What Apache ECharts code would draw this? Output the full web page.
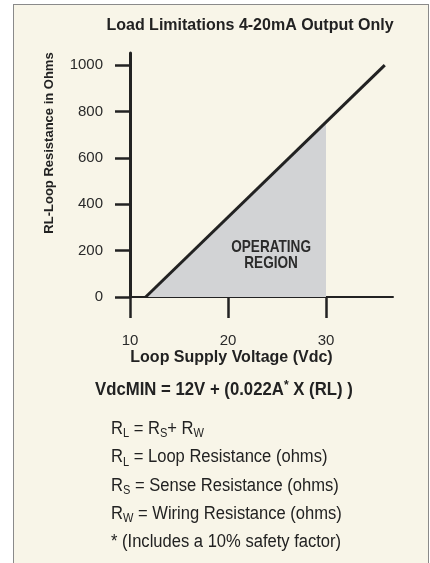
<!DOCTYPE html>
<html>
<head>
<meta charset="utf-8">
<script src="https://cdn.jsdelivr.net/npm/echarts@6/dist/echarts.min.js"></script>
<style>
  html, body { margin: 0; padding: 0; background: #ffffff; overflow: hidden; }
  #wrap { position: relative; width: 430px; height: 563px; overflow: hidden; }
  #frame { position: absolute; left: 13px; top: 4px; width: 414px; height: 620px;
           border: 1px solid #8a8a8a; background: #f8f5e8; }
  #chart { position: absolute; left: 0; top: 0; width: 430px; height: 563px; }
</style>
</head>
<body>
<div id="wrap">
  <div id="frame"></div>
  <div id="chart"></div>
</div>
<script>
// ---- data ----
const titleText = 'Load Limitations 4-20mA Output Only';
const xAxisName = 'Loop Supply Voltage (Vdc)';
const yAxisName = 'RL-Loop Resistance in Ohms';
const xTicks = [10, 20, 30];
const yTicks = [0, 200, 400, 600, 800, 1000];
const limitVoltage = [11.6, 36];     // load line x (Vdc)
const limitResistance = [0, 1000];  // load line y (ohms)
const regionVoltage = [11.6, 30];   // operating region top edge x
const regionResistance = [0, 754];  // operating region top edge y
const regionLabel = ['OPERATING', 'REGION'];
const regionLabelAt = [24.4, 181];   // data coords for region label centre

const chart = echarts.init(document.getElementById('chart'), null, { renderer: 'canvas' });
const FONT = '"Liberation Sans", Arial, Helvetica, sans-serif';
const ink = '#222222';

const linePts = limitVoltage.map((v, i) => [v, limitResistance[i]]);
const regionPts = regionVoltage.map((v, i) => [v, regionResistance[i]]);

const notes = [
  '{r|R}{s|L}{r| = R}{s|S}{r|+ R}{s|W}',
  '{r|R}{s|L}{r| = Loop Resistance (ohms)}',
  '{r|R}{s|S}{r| = Sense Resistance (ohms)}',
  '{r|R}{s|W}{r| = Wiring Resistance (ohms)}',
  '{r|* (Includes a 10% safety factor)}'
];

function textGraphics(labelPos) {
  return [
    {
      id: 'region', type: 'text', x: labelPos[0], y: labelPos[1], scaleX: 0.8, z: 10,
      style: {
        text: regionLabel.join('\n'), textAlign: 'center', textVerticalAlign: 'middle',
        fontFamily: FONT, fontSize: 17, fontWeight: 'bold', fill: '#2b2b2b', lineHeight: 16
      }
    },
    {
      id: 'formula', type: 'text', x: 95, y: 390, scaleX: 0.93,
      style: {
        text: '{b|VdcMIN = 12V + (0.022A}{sup|*}{b| X (RL) )}',
        textAlign: 'left', textVerticalAlign: 'middle',
        rich: {
          b: { fontFamily: FONT, fontSize: 18, fontWeight: 'bold', fill: ink, lineHeight: 22 },
          sup: { fontFamily: FONT, fontSize: 13, fontWeight: 'bold', fill: ink, lineHeight: 10, verticalAlign: 'top' }
        }
      }
    },
    ...notes.map((t, i) => ({
      id: 'note' + i, type: 'text', x: 111, y: 429 + i * 28.3, scaleX: 0.92,
      style: {
        text: t, textAlign: 'left', textVerticalAlign: 'middle',
        rich: {
          r: { fontFamily: FONT, fontSize: 18, fill: ink, lineHeight: 22 },
          s: { fontFamily: FONT, fontSize: 12, fill: ink, lineHeight: 8, verticalAlign: 'bottom' }
        }
      }
    }))
  ];
}

const option = {
  backgroundColor: 'transparent',
  animation: false,
  title: {
    text: titleText,
    left: 245, top: 13, textAlign: 'center',
    textStyle: { fontFamily: FONT, fontSize: 16, fontWeight: 'bold', color: ink }
  },
  grid: { left: 130, top: 53, width: 263, height: 244 },
  xAxis: {
    type: 'value', min: 10, max: 36.84,
    name: xAxisName, nameLocation: 'middle', nameGap: 53,
    nameTextStyle: { fontFamily: FONT, fontSize: 16, fontWeight: 'bold', color: ink, padding: [0, 60, 0, 0] },
    axisLine: { show: true, onZero: false, lineStyle: { color: ink, width: 2 } },
    axisTick: { show: true, inside: false, length: 21, customValues: xTicks, lineStyle: { color: ink, width: 2.5 } },
    axisLabel: { customValues: xTicks, margin: 36, fontFamily: FONT, fontSize: 15, color: '#2a2a2a',
                 formatter: v => String(v) },
    splitLine: { show: false }
  },
  yAxis: {
    type: 'value', min: 0, max: 1052,
    name: yAxisName, nameLocation: 'middle', nameGap: 74, nameRotate: 90,
    nameTextStyle: { fontFamily: FONT, fontSize: 13, fontWeight: 'bold', color: ink, padding: [0, 0, 0, 64] },
    axisLine: { show: true, onZero: false, lineStyle: { color: ink, width: 3 } },
    axisTick: { show: true, inside: false, length: 15, customValues: yTicks, lineStyle: { color: ink, width: 2.5 } },
    axisLabel: { customValues: yTicks, margin: 27, fontFamily: FONT, fontSize: 15, color: '#2a2a2a',
                 formatter: v => String(v) },
    splitLine: { show: false }
  },
  series: [
    {
      type: 'line', data: regionPts, symbol: 'none', z: 1,
      lineStyle: { width: 0 },
      areaStyle: { color: '#d2d3d5', opacity: 1 }
    },
    {
      type: 'line', data: linePts, symbol: 'none', z: 3,
      lineStyle: { color: ink, width: 3 }
    }
  ],
  graphic: textGraphics([0, 0])
};
chart.setOption(option);
const pos = chart.convertToPixel({ gridIndex: 0 }, regionLabelAt);
chart.setOption({ graphic: textGraphics(pos) });
</script>
</body>
</html>
